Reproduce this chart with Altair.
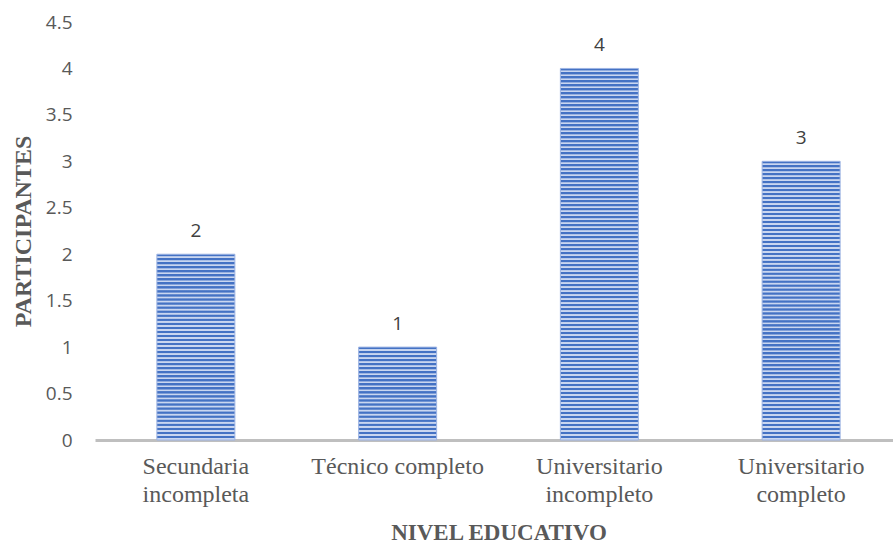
import altair as alt
import pandas as pd

# Participants by education level
niveles = ["Secundaria incompleta", "Técnico completo",
           "Universitario incompleto", "Universitario completo"]
participantes = [2, 1, 4, 3]

df = pd.DataFrame({"nivel": niveles, "n": participantes})

Y_MAX = 4.5
PLOT_H = 418
PLOT_W = 798
STRIPE_PX = 4  # height of one dark+light stripe pair
DARK = "#4472C4"
LIGHT = "#C9D6F0"


def striped_fill(value):
    """Vertical linear gradient that paints horizontal stripes over a bar."""
    bar_px = value / Y_MAX * PLOT_H
    n = max(1, round(bar_px / STRIPE_PX))
    stops = []
    for i in range(n):
        a = i / n
        m = (i + 0.5) / n
        b = (i + 1) / n
        stops += [
            {"offset": a, "color": DARK},
            {"offset": m - 0.1 / n, "color": DARK},
            {"offset": m + 0.1 / n, "color": LIGHT},
            {"offset": b - 0.1 / n, "color": LIGHT},
        ]
    return {"gradient": "linear", "x1": 0, "y1": 0, "x2": 0, "y2": 1,
            "stops": stops}


x_enc = alt.X(
    "nivel:N",
    sort=niveles,
    scale=alt.Scale(domain=niveles, paddingInner=0, paddingOuter=0,
                    range=[0, 807]),
    axis=alt.Axis(
        title="NIVEL EDUCATIVO",
        labelAngle=0,
        labelExpr="datum.label == 'Técnico completo' ? datum.label : split(datum.label, ' ')",
        labelFont="Liberation Serif",
        labelFontSize=24,
        labelColor="#595959",
        labelLineHeight=28,
        labelPadding=26,
        labelBaseline="middle",
        ticks=False,
        domain=True,
        domainColor="#BFBFBF",
        domainWidth=3,
        titleFont="Liberation Serif",
        titleFontSize=23,
        titleFontWeight="bold",
        titleColor="#595959",
        titlePadding=15,
    ),
)

y_enc = alt.Y(
    "n:Q",
    scale=alt.Scale(domain=[0, Y_MAX], nice=False),
    axis=alt.Axis(
        title="PARTICIPANTES",
        values=[0, 0.5, 1, 1.5, 2, 2.5, 3, 3.5, 4, 4.5],
        labelExpr="datum.value + ''",
        labelFont="Open Sans",
        labelFontSize=19,
        labelColor="#595959",
        labelPadding=23,
        ticks=False,
        domain=False,
        grid=False,
        titleFont="Liberation Serif",
        titleFontSize=24,
        titleFontWeight="bold",
        titleColor="#595959",
        titlePadding=10,
    ),
)

layers = []
for nivel, val in zip(niveles, participantes):
    layers.append(
        alt.Chart(df)
        .transform_filter(alt.datum.nivel == nivel)
        .mark_bar(size=78, fill=striped_fill(val), stroke="#9DB4E3",
                  strokeWidth=1)
        .encode(x=x_enc, y=y_enc)
    )

labels = (
    alt.Chart(df)
    .mark_text(font="Open Sans", fontSize=19, color="#404040",
               baseline="alphabetic", dy=-17)
    .encode(x=x_enc, y=y_enc, text="n:Q")
)

chart = (
    alt.layer(*layers, labels)
    .properties(
        width=PLOT_W,
        height=PLOT_H,
        autosize=alt.AutoSizeParams(type="none"),
        padding={"left": 95, "top": 22, "right": 0, "bottom": 104},
        background="white",
    )
    .configure_view(stroke=None)
)

chart.save("out.html", embed_options={"renderer": "svg", "actions": False})
